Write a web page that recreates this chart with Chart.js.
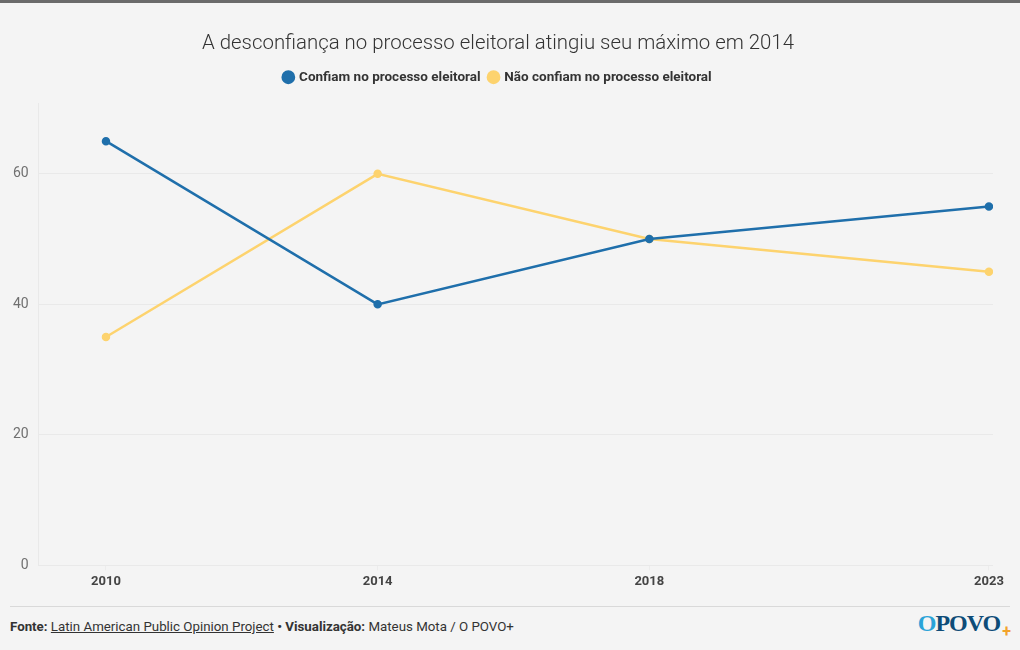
<!DOCTYPE html>
<html>
<head>
<meta charset="utf-8">
<script src="https://cdn.jsdelivr.net/npm/chart.js@4.4.1/dist/chart.umd.min.js"></script>
<style>
  html,body{margin:0;padding:0;background:#f4f4f4;}
  body{width:1020px;height:650px;position:relative;overflow:hidden;font-family:Roboto,"Open Sans",sans-serif;}
  #topbar{position:absolute;left:0;top:0;width:1020px;height:3px;background:#6b6b6b;}
  #wrap{position:absolute;left:0;top:3px;width:1020px;height:597px;}
  #sep{position:absolute;left:10px;top:606px;width:1000px;height:1px;background:#d9d9d9;}
  #foot{position:absolute;left:10px;top:619px;font-size:13.3px;color:#333;}
  #foot b{color:#333;}
  #foot u{text-decoration:underline;}
  #logo{position:absolute;right:10px;top:610px;font-family:"Liberation Serif","DejaVu Serif",serif;font-weight:bold;font-size:24px;letter-spacing:-1px;color:#0e4c78;}
  #logo .o{color:#2aa3d8;}
  #logo .p{color:#f2a32a;font-family:Roboto,sans-serif;font-size:16px;position:relative;top:6px;margin-left:2px;}
</style>
</head>
<body>
<div id="topbar"></div>
<div id="wrap"><canvas id="c"></canvas></div>
<div id="sep"></div>
<div id="foot"><b>Fonte:</b> <u>Latin American Public Opinion Project</u> <b>• Visualização:</b> Mateus Mota / O POVO+</div>
<div id="logo"><span class="o">O</span>POVO<span class="p">+</span></div>
<script>
const years = [2010, 2014, 2018, 2023];
const confiam = [65, 40, 50, 55];
const naoConfiam = [35, 60, 50, 45];
const seriesNames = ["Confiam no processo eleitoral", "Não confiam no processo eleitoral"];
const yTicks = [0, 20, 40, 60];
const titleText = "A desconfiança no processo eleitoral atingiu seu máximo em 2014";

const toPts = arr => years.map((y, i) => ({x: y, y: arr[i]}));

const legendSpacer = {
  id: 'legendSpacer',
  beforeInit(chart) {
    const orig = chart.legend.fit;
    chart.legend.fit = function () { orig.call(this); this.height += 10; };
  }
};

new Chart(document.getElementById('c'), {
  type: 'line',
  plugins: [legendSpacer],
  data: {
    datasets: [
      {label: seriesNames[0], data: toPts(confiam), borderColor: '#1f6fab', backgroundColor: '#1f6fab',
       borderWidth: 2.5, pointRadius: 3, pointHoverRadius: 3, tension: 0},
      {label: seriesNames[1], data: toPts(naoConfiam), borderColor: '#fdd36e', backgroundColor: '#fdd36e',
       borderWidth: 2.5, pointRadius: 3, pointHoverRadius: 3, tension: 0}
    ]
  },
  options: {
    responsive: true,
    maintainAspectRatio: false,
    animation: false,
    layout: {padding: {left: 3, right: 27, top: 10, bottom: 6}},
    plugins: {
      title: {display: true, text: titleText, color: '#333',
        font: {family: 'Roboto', size: 20.4, weight: '300'}, padding: {top: 19, bottom: 5}},
      legend: {display: true, position: 'top',
        labels: {usePointStyle: true, pointStyle: 'circle', boxWidth: 8, boxHeight: 8, padding: 9,
          color: '#333', font: {family: 'Roboto', size: 13.5, weight: 'bold'}}},
      tooltip: {enabled: false}
    },
    scales: {
      x: {
        type: 'linear', min: 2009.01, max: 2023.06,
        afterBuildTicks: axis => { axis.ticks = years.map(v => ({value: v})); },
        ticks: {color: '#444', font: {family: 'Roboto', size: 13, weight: 'bold'}, padding: 4,
          callback: v => String(v), maxRotation: 0},
        grid: {display: true, drawOnChartArea: false, tickLength: 5, color: '#ececec'},
        border: {display: false}
      },
      y: {
        min: 0, max: 70.7,
        afterBuildTicks: axis => { axis.ticks = yTicks.map(v => ({value: v})); },
        ticks: {color: '#707070', font: {family: 'Roboto', size: 14}, padding: 10},
        grid: {color: '#e9e9e9', drawTicks: false, lineWidth: 1},
        border: {display: true, color: '#e9e9e9'}
      }
    }
  }
});
</script>
</body>
</html>
